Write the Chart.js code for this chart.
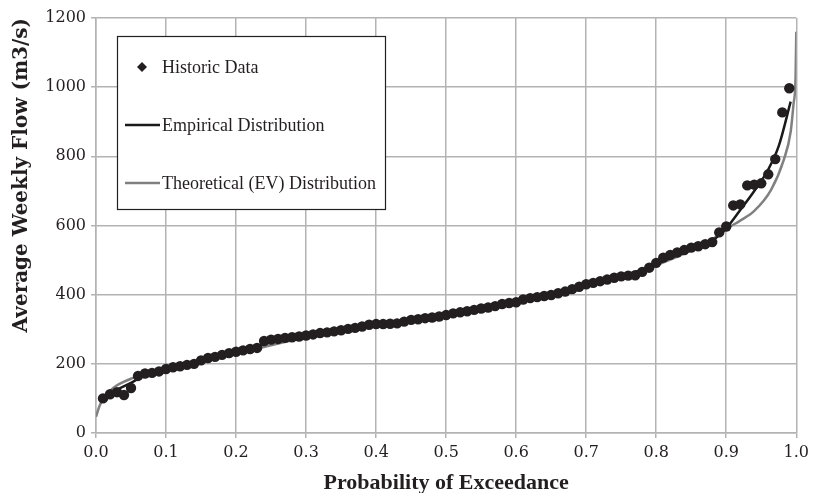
<!DOCTYPE html>
<html>
<head>
<meta charset="utf-8">
<script src="https://cdn.jsdelivr.net/npm/chart.js@4.4.1/dist/chart.umd.min.js"></script>
<style>
    html, body {margin: 0; padding: 0; background: #fff;}
    #wrap {width: 814px; height: 493px;}
</style>
</head>
<body>
<div id="wrap"><canvas id="FlowChart" width="814" height="493"></canvas></div>
<script>
// historic weekly flows, plotted against probability of exceedance
let histX = [0.01, 0.02, 0.03, 0.04, 0.05, 0.06, 0.07, 0.08, 0.09, 0.10,
    0.11, 0.12, 0.13, 0.14, 0.15, 0.16, 0.17, 0.18, 0.19, 0.20,
    0.21, 0.22, 0.23, 0.24, 0.25, 0.26, 0.27, 0.28, 0.29, 0.30,
    0.31, 0.32, 0.33, 0.34, 0.35, 0.36, 0.37, 0.38, 0.39, 0.40,
    0.41, 0.42, 0.43, 0.44, 0.45, 0.46, 0.47, 0.48, 0.49, 0.50,
    0.51, 0.52, 0.53, 0.54, 0.55, 0.56, 0.57, 0.58, 0.59, 0.60,
    0.61, 0.62, 0.63, 0.64, 0.65, 0.66, 0.67, 0.68, 0.69, 0.70,
    0.71, 0.72, 0.73, 0.74, 0.75, 0.76, 0.77, 0.78, 0.79, 0.80,
    0.81, 0.82, 0.83, 0.84, 0.85, 0.86, 0.87, 0.88, 0.89, 0.90,
    0.91, 0.92, 0.93, 0.94, 0.95, 0.96, 0.97, 0.98, 0.99];
let histY = [100, 112, 118, 110, 130, 165, 172, 174, 178, 185,
    190, 193, 197, 200, 210, 217, 220, 226, 231, 235,
    239, 243, 246, 266, 270, 272, 275, 277, 279, 282,
    285, 289, 291, 294, 297, 301, 304, 308, 313, 315,
    315, 316, 317, 322, 327, 329, 332, 334, 337, 341,
    346, 349, 352, 356, 360, 363, 367, 373, 376, 378,
    386, 390, 393, 396, 399, 404, 409, 416, 423, 430,
    434, 439, 444, 449, 453, 455, 456, 466, 478, 492,
    507, 515, 522, 529, 536, 540, 546, 552, 580, 597,
    658, 661, 716, 718, 722, 748, 792, 927, 997];

// empirical distribution curve
let empX = [0.01, 0.02, 0.03, 0.05, 0.07, 0.10, 0.15, 0.20, 0.25, 0.30, 0.35, 0.40,
    0.45, 0.50, 0.55, 0.60, 0.65, 0.70, 0.75, 0.80, 0.85, 0.88, 0.90, 0.92,
    0.94, 0.96, 0.975, 0.992];
let empY = [98, 112, 125, 145, 168, 183, 207, 233, 262, 281, 297, 313,
    325, 340, 358, 378, 400, 428, 452, 488, 533, 556, 592, 645,
    700, 762, 830, 958];

// theoretical (EV) distribution curve
let evX = [0.0, 0.005, 0.01, 0.02, 0.03, 0.05, 0.07, 0.10, 0.15, 0.20, 0.25, 0.30,
    0.35, 0.40, 0.45, 0.50, 0.55, 0.60, 0.65, 0.70, 0.75, 0.80, 0.85, 0.88,
    0.90, 0.92, 0.94, 0.964, 0.982, 0.992, 0.996, 0.999, 1.0];
let evY = [47, 78, 98, 122, 138, 157, 170, 186, 208, 230, 254, 276,
    294, 311, 325, 340, 357, 376, 398, 424, 452, 485, 528, 560,
    590, 614, 642, 703, 789, 871, 950, 1030, 1160];

let xTicks = [0.0, 0.1, 0.2, 0.3, 0.4, 0.5, 0.6, 0.7, 0.8, 0.9, 1.0];
let yTicks = [0, 200, 400, 600, 800, 1000, 1200];

let seriesNames = ['Historic Data', 'Empirical Distribution', 'Theoretical (EV) Distribution'];

let textColor = '#231f20';
let gridColor = '#b3b3b3';

function toPoints(xs, ys) {
    let pts = [];
    for (let i = 0; i < xs.length; i++) {
        pts.push({x: xs[i], y: ys[i]});
    }
    return pts;
}

// boxed legend sitting inside the plot, like the original
const legendBox = {
    id: 'legendBox',
    afterDraw(chart) {
        let ctx = chart.ctx;
        let area = chart.chartArea;
        let left = area.left + 21;
        let top = area.top + 18;
        let w = 268;
        let h = 173;

        ctx.save();
        ctx.fillStyle = '#ffffff';
        ctx.fillRect(left, top, w, h);
        ctx.strokeStyle = textColor;
        ctx.lineWidth = 1.2;
        ctx.strokeRect(left + 0.5, top + 0.5, w, h);

        ctx.font = '18px "Liberation Serif"';
        ctx.textBaseline = 'middle';
        ctx.textAlign = 'left';

        chart.data.datasets.forEach((ds, i) => {
            let rowY = top + 31 + i * 58;
            if (ds.showLine === false) {
                let cx = left + 25;
                let s = 5;
                ctx.fillStyle = ds.backgroundColor;
                ctx.beginPath();
                ctx.moveTo(cx, rowY - s);
                ctx.lineTo(cx + s, rowY);
                ctx.lineTo(cx, rowY + s);
                ctx.lineTo(cx - s, rowY);
                ctx.closePath();
                ctx.fill();
            } else {
                ctx.strokeStyle = ds.borderColor;
                ctx.lineWidth = ds.borderWidth;
                ctx.beginPath();
                ctx.moveTo(left + 8, rowY);
                ctx.lineTo(left + 43, rowY);
                ctx.stroke();
            }
            ctx.fillStyle = textColor;
            ctx.fillText(ds.label, left + 45, rowY + 1);
        });
        ctx.restore();
    }
};

let ctx = document.getElementById('FlowChart').getContext('2d');

let flowChart = new Chart(ctx, {
    type: 'scatter',
    data: {
        datasets: [
            {
                label: seriesNames[0],
                data: toPoints(histX, histY),
                showLine: false,
                pointStyle: 'circle',
                pointRadius: 5.2,
                pointBorderWidth: 0,
                backgroundColor: '#231f20',
                borderColor: '#231f20',
                order: 0
            },
            {
                label: seriesNames[1],
                data: toPoints(empX, empY),
                showLine: true,
                borderColor: '#1a1a1a',
                borderWidth: 2.5,
                pointRadius: 0,
                cubicInterpolationMode: 'monotone',
                order: 1
            },
            {
                label: seriesNames[2],
                data: toPoints(evX, evY),
                showLine: true,
                borderColor: '#808080',
                borderWidth: 2.5,
                pointRadius: 0,
                cubicInterpolationMode: 'monotone',
                order: 2
            }
        ]
    },
    options: {
        responsive: false,
        animation: false,
        layout: {
            padding: {left: 0, right: 15, top: 18, bottom: 0}
        },
        plugins: {
            legend: {display: false},
            tooltip: {enabled: false}
        },
        scales: {
            x: {
                type: 'linear',
                min: xTicks[0],
                max: xTicks[xTicks.length - 1],
                afterBuildTicks: (scale) => {
                    scale.ticks = xTicks.map(v => ({value: v}));
                },
                afterFit: (scale) => {
                    scale.height = 60;
                },
                grid: {
                    color: gridColor,
                    lineWidth: 1.5,
                    tickLength: 5
                },
                border: {color: gridColor, width: 1.5},
                ticks: {
                    color: textColor,
                    padding: 5,
                    font: {family: 'DejaVu Serif', size: 16},
                    callback: (v) => Number(v).toFixed(1)
                },
                title: {
                    display: true,
                    text: 'Probability of Exceedance',
                    color: textColor,
                    padding: {top: 0, bottom: -4},
                    font: {family: 'Liberation Serif', size: 22, weight: 'bold'}
                }
            },
            y: {
                type: 'linear',
                min: yTicks[0],
                max: yTicks[yTicks.length - 1],
                afterBuildTicks: (scale) => {
                    scale.ticks = yTicks.map(v => ({value: v}));
                },
                afterFit: (scale) => {
                    scale.width = 96;
                },
                grid: {
                    color: gridColor,
                    lineWidth: 1.5,
                    tickLength: 5
                },
                border: {color: gridColor, width: 1.5},
                ticks: {
                    color: textColor,
                    padding: 5,
                    font: {family: 'DejaVu Serif', size: 16},
                    callback: (v) => String(v)
                },
                title: {
                    display: true,
                    text: 'Average Weekly Flow (m3/s)',
                    color: textColor,
                    align: 'end',
                    padding: {top: 10, bottom: 0},
                    font: {family: 'DejaVu Serif', size: 20, weight: 'bold'}
                }
            }
        }
    },
    plugins: [legendBox]
});
</script>
</body>
</html>
